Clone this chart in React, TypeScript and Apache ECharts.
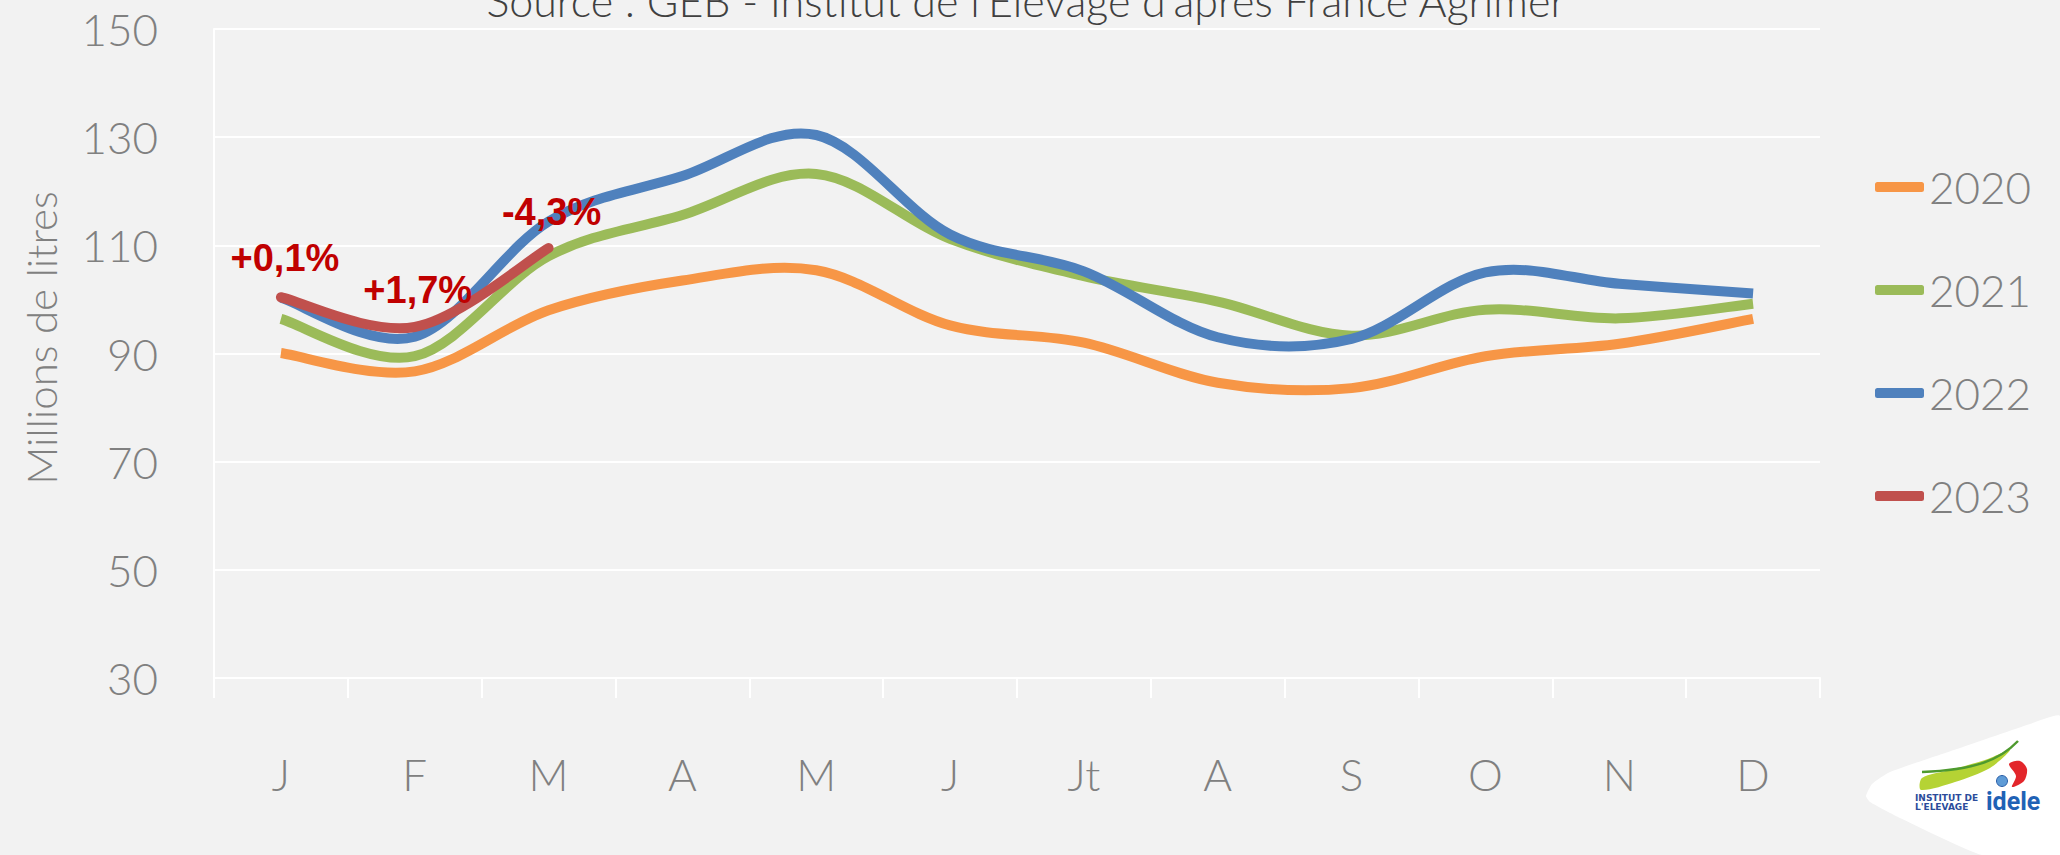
import React, { useEffect, useRef } from 'react';
import * as echarts from 'echarts';

const months = ['J', 'F', 'M', 'A', 'M', 'J', 'Jt', 'A', 'S', 'O', 'N', 'D'];
const years = ['2020', '2021', '2022', '2023'];
const values2020 = [90.1, 86.7, 98.0, 103.5, 105.4, 95.2, 92.0, 84.6, 83.6, 89.5, 91.8, 96.4];
const values2021 = [96.4, 89.5, 108.0, 115.6, 123.2, 111.2, 104.3, 99.6, 93.3, 98.1, 96.5, 99.2];
const values2022 = [100.3, 93.1, 114.4, 122.8, 130.4, 112.0, 105.2, 93.0, 92.7, 105.0, 102.9, 101.1];
const values2023 = [100.4, 94.9, 109.5];
const changes2023 = ['+0,1%', '+1,7%', '-4,3%'];
const yMin = 30;
const yMax = 150;
const yStep = 20;
const titleText = "Source : GEB - Institut de l'Elevage d'après France Agrimer";
const yAxisTitle = 'Millions de litres';

const seriesColors = ['#F79646', '#9BBB59', '#4F81BD', '#C0504D'];
const grayText = '#808080';
const gothic = 'Lato';

function smoothPath(pts: number[][]): string {
  let d = `M${pts[0][0]},${pts[0][1]}`;
  const n = pts.length;
  for (let k = 0; k < n - 1; k++) {
    const p0 = pts[k - 1] || pts[k];
    const p1 = pts[k];
    const p2 = pts[k + 1];
    const p3 = pts[k + 2] || pts[k + 1];
    const c1x = p1[0] + (p2[0] - p0[0]) / 6;
    const c1y = p1[1] + (p2[1] - p0[1]) / 6;
    const c2x = p2[0] - (p3[0] - p1[0]) / 6;
    const c2y = p2[1] - (p3[1] - p1[1]) / 6;
    d += ` C${c1x},${c1y} ${c2x},${c2y} ${p2[0]},${p2[1]}`;
  }
  return d;
}

export default function App() {
  const ref = useRef<HTMLDivElement>(null);

  useEffect(() => {
    if (!ref.current) return;
    const chart = echarts.init(ref.current, null, { renderer: 'svg' });
    const allValues = [values2020, values2021, values2022, values2023];

    chart.setOption({
      animation: false,
      backgroundColor: '#F2F2F2',
      textStyle: { fontFamily: gothic },
      grid: { left: 214, right: 240, top: 29, bottom: 177, containLabel: false },
      xAxis: {
        type: 'category',
        data: months,
        boundaryGap: true,
        axisLine: { show: true, lineStyle: { color: '#FFFFFF', width: 2 } },
        axisTick: { show: true, length: 20, lineStyle: { color: '#FFFFFF', width: 2 } },
        axisLabel: { color: grayText, fontSize: 44, fontWeight: 300, fontFamily: gothic, margin: 74, lineHeight: 44 },
        splitLine: { show: false },
      },
      yAxis: {
        type: 'value',
        min: yMin,
        max: yMax,
        interval: yStep,
        axisLine: { show: true, lineStyle: { color: '#FFFFFF', width: 2 } },
        axisTick: { show: false },
        axisLabel: { color: grayText, fontSize: 44, fontWeight: 300, fontFamily: gothic, margin: 56 },
        splitLine: { show: true, lineStyle: { color: '#FFFFFF', width: 2 } },
      },
      legend: {
        orient: 'vertical',
        left: 1870,
        top: 160,
        itemWidth: 49,
        itemHeight: 10,
        itemGap: 59,
        icon: 'roundRect',
        data: years,
        textStyle: { color: grayText, fontSize: 44, fontWeight: 300, fontFamily: gothic, lineHeight: 44 },
      },
      series: years.map((y, i) => ({
        name: y,
        type: 'custom',
        coordinateSystem: 'cartesian2d',
        data: allValues[i].map((v, k) => [k, v]),
        encode: { x: 0, y: 1 },
        itemStyle: { color: seriesColors[i] },
        z: 2 + i,
        renderItem: (params: any, api: any) => {
          if (params.dataIndex !== 0) return null;
          const pts = allValues[i].map((v, k) => api.coord([k, v]));
          return {
            type: 'path',
            shape: { pathData: smoothPath(pts) },
            style: {
              fill: 'none',
              stroke: seriesColors[i],
              lineWidth: 10,
              lineCap: i === 3 ? 'round' : 'butt',
              lineJoin: 'round',
            },
          };
        },
      })),
    });

    const annotOffsets = [
      [4, -39],
      [3, -37],
      [3, -36],
    ];
    const annotations = changes2023.map((t, i) => {
      const p = chart.convertToPixel({ gridIndex: 0 }, [i, values2023[i]]) as number[];
      return {
        type: 'text',
        x: p[0] + annotOffsets[i][0],
        y: p[1] + annotOffsets[i][1],
        z: 100,
        style: {
          text: t,
          fill: '#C00000',
          fontSize: 38,
          fontWeight: 'bold',
          fontFamily: 'Liberation Sans',
          textAlign: 'center',
          textVerticalAlign: 'middle',
        },
      };
    });

    const logo = {
      type: 'group',
      children: [
        {
          type: 'polygon',
          shape: {
            points: [
              [1866, 796], [1872, 784], [1890, 772], [1960, 748], [2030, 724], [2060, 716],
              [2060, 855], [1982, 855], [1900, 818], [1870, 802],
            ],
            smooth: 0.15,
          },
          style: { fill: '#FFFFFF' },
        },
        {
          type: 'polygon',
          shape: {
            points: [[1921, 790], [1922, 778], [1950, 770], [1985, 760], [2010, 750], [1990, 768], [1955, 782]],
            smooth: 0.3,
          },
          style: { fill: '#B5D334' },
        },
        {
          type: 'bezierCurve',
          shape: { x1: 1922, y1: 772, x2: 2018, y2: 741, cpx1: 1975, cpy1: 770, cpx2: 2000, cpy2: 760 },
          style: { stroke: '#4E9A2E', lineWidth: 2.5, fill: 'none' },
        },
        {
          type: 'polygon',
          shape: {
            points: [[2009, 764], [2020, 761], [2027, 769], [2024, 781], [2012, 787], [2016, 776]],
            smooth: 0.3,
          },
          style: { fill: '#E3262B' },
        },
        {
          type: 'circle',
          shape: { cx: 2002, cy: 781, r: 5.5 },
          style: { fill: '#5E9BD6', stroke: '#2B5FA8', lineWidth: 1 },
        },
        {
          type: 'text',
          x: 1915,
          y: 798,
          style: { text: 'INSTITUT DE', fill: '#2B4C9B', fontSize: 9, fontWeight: 'bold', fontFamily: 'DejaVu Sans', textVerticalAlign: 'middle' },
        },
        {
          type: 'text',
          x: 1915,
          y: 807,
          style: { text: "L'ELEVAGE", fill: '#2B4C9B', fontSize: 9, fontWeight: 'bold', fontFamily: 'DejaVu Sans', textVerticalAlign: 'middle' },
        },
        {
          type: 'text',
          x: 1986,
          y: 801,
          style: { text: 'idele', fill: '#1F62B5', fontSize: 25, fontWeight: 'bold', fontFamily: 'Roboto', textVerticalAlign: 'middle' },
        },
      ],
    };

    chart.setOption({
      graphic: [
        {
          type: 'text',
          x: 1026,
          y: 0,
          style: {
            text: titleText,
            fill: '#404040',
            fontSize: 43,
            fontWeight: 300,
            fontFamily: gothic,
            textAlign: 'center',
            textVerticalAlign: 'middle',
          },
        },
        {
          type: 'text',
          x: 41,
          y: 338,
          rotation: Math.PI / 2,
          style: {
            text: yAxisTitle,
            fill: grayText,
            fontSize: 42,
            fontWeight: 300,
            fontFamily: gothic,
            textAlign: 'center',
            textVerticalAlign: 'middle',
          },
        },
        logo,
        ...annotations,
      ],
    });

    return () => chart.dispose();
  }, []);

  return (
    <div
      ref={ref}
      style={{ position: 'absolute', left: 0, top: 0, width: 2060, height: 855, background: '#F2F2F2' }}
    />
  );
}
